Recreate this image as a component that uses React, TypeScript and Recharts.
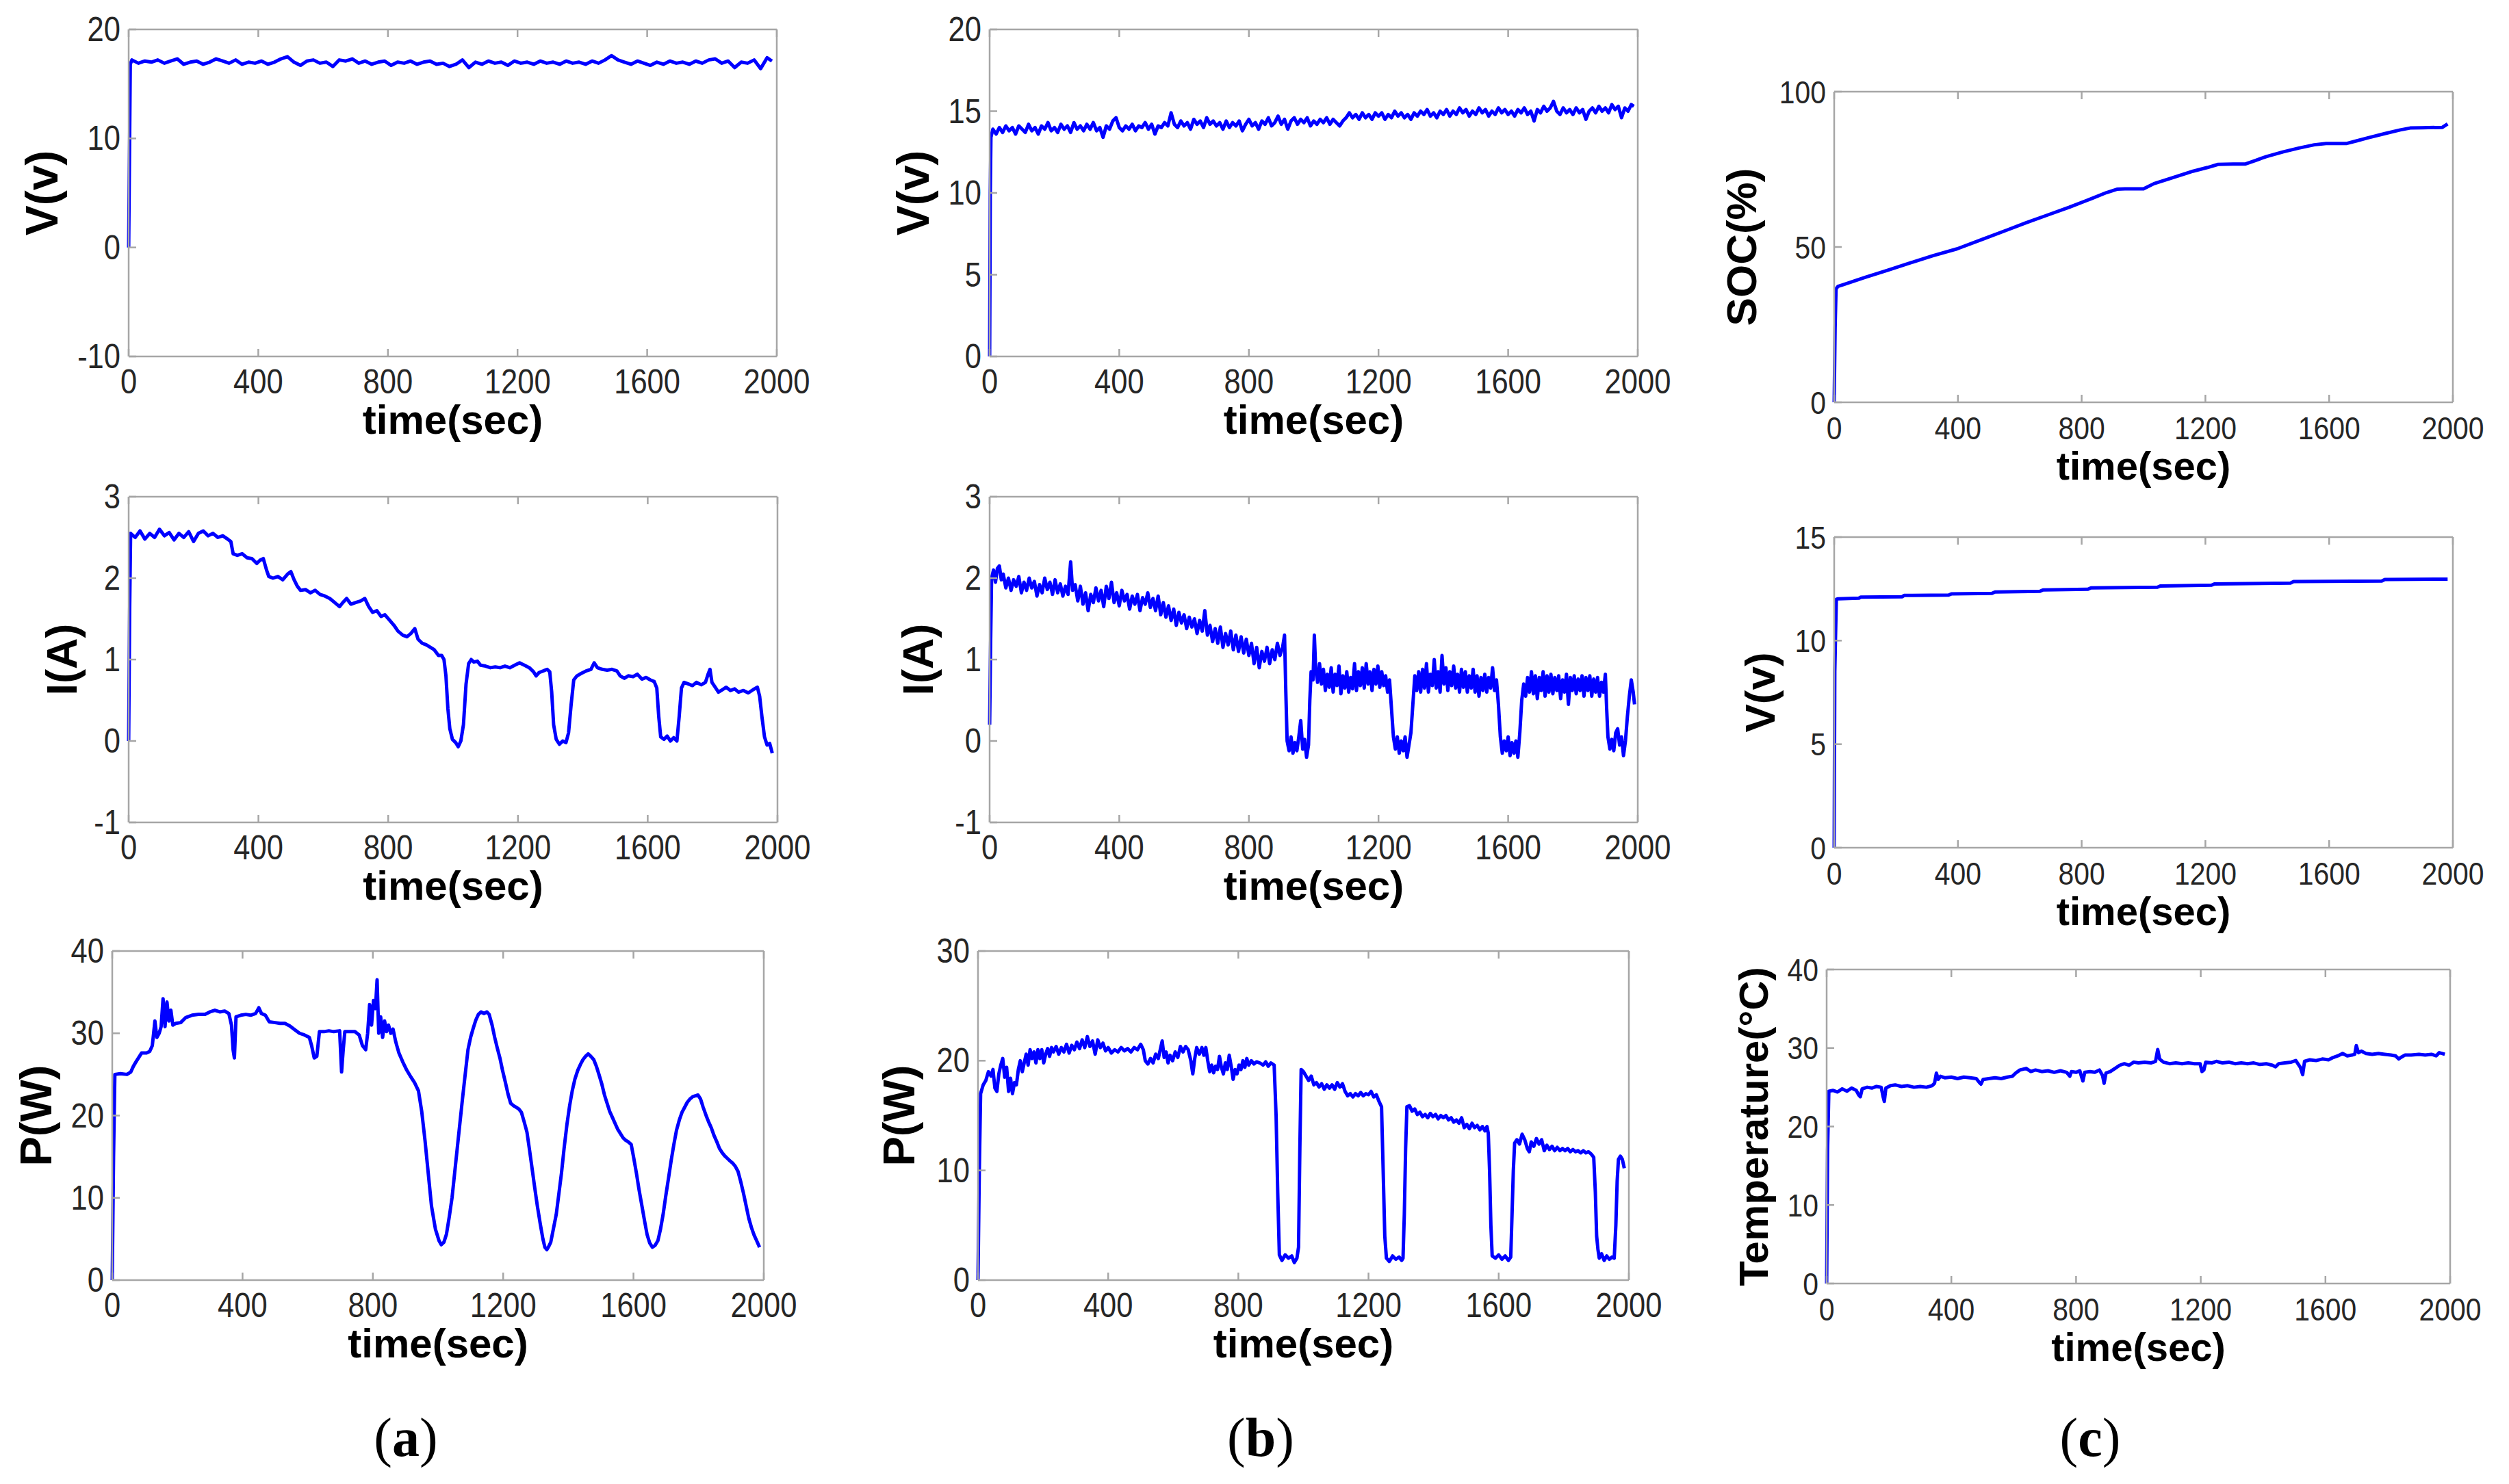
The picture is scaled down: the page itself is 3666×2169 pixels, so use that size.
import { Line, LineChart, XAxis, YAxis } from "recharts";

type Pt = [number, number];

const TIME_TICKS = [0, 400, 800, 1200, 1600, 2000];

// (a) column
const A_V_TICKS = [-10, 0, 10, 20];
const A_V: Pt[] = [
  [0, 0], [5, 16.8], [10, 17.2], [30, 16.9], [50, 17.1], [70, 17.0], [90, 17.2], [110, 16.9], [130, 17.1], [150, 17.3],
  [170, 16.8], [190, 17.0], [210, 17.1], [230, 16.8], [250, 17.0], [270, 17.3], [290, 17.1], [310, 16.9], [330, 17.2],
  [350, 16.8], [370, 17.0], [390, 16.9], [410, 17.1], [430, 16.8], [450, 17.0], [470, 17.3], [490, 17.5], [510, 17.0],
  [530, 16.7], [550, 17.1], [570, 17.2], [590, 16.9], [610, 17.0], [630, 16.6], [650, 17.2], [670, 17.1], [690, 17.3],
  [710, 16.9], [730, 17.1], [750, 16.8], [770, 17.0], [790, 17.1], [810, 16.7], [830, 17.0], [850, 16.9], [870, 17.1],
  [890, 16.8], [910, 17.0], [930, 17.1], [950, 16.8], [970, 16.9], [990, 16.6], [1010, 16.8], [1030, 17.2], [1050, 16.5],
  [1070, 17.0], [1090, 16.8], [1110, 17.1], [1130, 16.9], [1150, 17.0], [1170, 16.7], [1190, 17.1], [1210, 16.9],
  [1230, 17.0], [1250, 16.8], [1270, 17.1], [1290, 16.9], [1310, 17.0], [1330, 16.8], [1350, 17.1], [1370, 16.9],
  [1390, 17.0], [1410, 16.8], [1430, 17.1], [1450, 16.9], [1470, 17.2], [1490, 17.6], [1510, 17.2], [1530, 17.0],
  [1550, 16.8], [1570, 17.1], [1590, 16.9], [1610, 16.7], [1630, 17.0], [1650, 16.8], [1670, 17.1], [1690, 16.9],
  [1710, 17.0], [1730, 16.8], [1750, 17.1], [1770, 16.9], [1790, 17.2], [1810, 17.3], [1830, 16.9], [1850, 17.1],
  [1870, 16.5], [1890, 17.0], [1910, 16.9], [1930, 17.2], [1950, 16.4], [1970, 17.4], [1985, 17.1],
];

const I_TICKS = [-1, 0, 1, 2, 3];
const A_I: Pt[] = [
  [0, 0], [3, 1.6], [6, 2.55], [20, 2.5], [35, 2.58], [50, 2.48], [65, 2.55], [80, 2.5], [95, 2.6], [110, 2.52],
  [125, 2.56], [140, 2.47], [155, 2.55], [170, 2.5], [185, 2.57], [200, 2.45], [215, 2.55], [230, 2.58], [245, 2.52],
  [260, 2.55], [275, 2.5], [290, 2.52], [305, 2.48], [315, 2.45], [322, 2.3], [335, 2.28], [350, 2.3], [365, 2.25],
  [380, 2.24], [395, 2.18], [405, 2.22], [415, 2.24], [425, 2.1], [432, 2.02], [445, 2.0], [460, 2.02], [475, 1.98],
  [490, 2.05], [500, 2.08], [510, 1.98], [520, 1.9], [530, 1.85], [545, 1.86], [560, 1.82], [575, 1.85], [590, 1.8],
  [605, 1.78], [620, 1.75], [635, 1.7], [650, 1.65], [660, 1.7], [672, 1.75], [685, 1.68], [700, 1.7], [715, 1.72],
  [728, 1.75], [740, 1.65], [752, 1.58], [765, 1.6], [778, 1.53], [790, 1.55], [805, 1.48], [818, 1.42], [830, 1.35],
  [845, 1.3], [858, 1.28], [870, 1.32], [882, 1.38], [892, 1.25], [905, 1.2], [918, 1.18], [930, 1.15], [942, 1.12],
  [955, 1.05], [965, 1.05], [972, 1.0], [978, 0.8], [984, 0.4], [990, 0.15], [998, 0.02], [1008, -0.02], [1016, -0.07],
  [1024, 0.0], [1032, 0.2], [1040, 0.7], [1048, 0.95], [1056, 1.0], [1064, 0.97], [1075, 0.98], [1085, 0.93],
  [1100, 0.92], [1115, 0.9], [1130, 0.91], [1145, 0.9], [1160, 0.92], [1175, 0.9], [1190, 0.93], [1205, 0.96],
  [1220, 0.93], [1235, 0.9], [1248, 0.85], [1256, 0.8], [1265, 0.84], [1278, 0.86], [1290, 0.88], [1298, 0.85],
  [1304, 0.6], [1310, 0.2], [1318, 0.02], [1328, -0.04], [1338, 0.0], [1348, -0.02], [1356, 0.1], [1364, 0.45],
  [1372, 0.75], [1382, 0.8], [1395, 0.83], [1410, 0.86], [1425, 0.88], [1435, 0.96], [1445, 0.9], [1460, 0.88],
  [1475, 0.87], [1490, 0.88], [1505, 0.86], [1515, 0.8], [1528, 0.77], [1540, 0.8], [1555, 0.79], [1568, 0.82],
  [1582, 0.76], [1595, 0.78], [1608, 0.75], [1620, 0.73], [1628, 0.65], [1634, 0.3], [1640, 0.05], [1650, 0.02],
  [1660, 0.06], [1670, 0.0], [1680, 0.04], [1690, 0.0], [1697, 0.3], [1704, 0.65], [1712, 0.72], [1725, 0.7],
  [1738, 0.68], [1750, 0.72], [1765, 0.69], [1778, 0.72], [1786, 0.82], [1792, 0.88], [1798, 0.72], [1808, 0.66],
  [1818, 0.6], [1830, 0.63], [1842, 0.66], [1855, 0.62], [1868, 0.64], [1880, 0.6], [1895, 0.62], [1910, 0.59],
  [1925, 0.63], [1938, 0.66], [1945, 0.55], [1952, 0.3], [1960, 0.05], [1968, -0.05], [1976, -0.03], [1984, -0.15],
];

const A_P_TICKS = [0, 10, 20, 30, 40];
const A_P: Pt[] = [
  [0, 0], [4, 15], [8, 25], [25, 25.1], [45, 25], [57, 25.3], [65, 26], [74, 26.6], [90, 27.6], [105, 27.6],
  [115, 27.8], [123, 28.5], [131, 31.5], [137, 29.5], [144, 30], [150, 30.8], [156, 34.2], [162, 30.8], [168, 33.8],
  [174, 31.5], [180, 32.8], [186, 31], [195, 31.2], [210, 31.3], [225, 31.9], [245, 32.2], [265, 32.3], [285, 32.3],
  [300, 32.6], [315, 32.8], [330, 32.6], [345, 32.7], [358, 32.4], [366, 31], [371, 28], [375, 27], [380, 32],
  [395, 32.2], [410, 32.3], [425, 32.2], [440, 32.4], [450, 33.1], [458, 32.4], [470, 32.2], [482, 31.4], [500, 31.3],
  [515, 31.2], [530, 31.2], [545, 30.9], [558, 30.5], [575, 30], [590, 29.8], [605, 29.5], [612, 28.5], [620, 27],
  [628, 27.2], [636, 30.2], [650, 30.2], [665, 30.3], [680, 30.2], [698, 30.3], [704, 25.3], [709, 28], [714, 30.2],
  [730, 30.2], [745, 30.2], [758, 29.8], [768, 28.5], [778, 28], [784, 30], [790, 33.5], [796, 31], [802, 34],
  [808, 33], [813, 36.5], [818, 30], [824, 32], [830, 29.5], [836, 31.5], [842, 30.2], [848, 31], [855, 30],
  [862, 30.5], [870, 29], [880, 27.6], [892, 26.5], [903, 25.6], [915, 24.8], [928, 24], [940, 23], [950, 20.5],
  [960, 17], [970, 13], [980, 9], [992, 6.2], [1003, 4.8], [1010, 4.3], [1018, 4.6], [1026, 5.6], [1035, 7.8],
  [1043, 10], [1051, 13], [1059, 16], [1067, 19], [1075, 22], [1084, 25.2], [1092, 28], [1100, 29.5], [1108, 30.6],
  [1116, 31.6], [1124, 32.3], [1132, 32.6], [1141, 32.4], [1150, 32.6], [1157, 32.3], [1166, 31], [1174, 29.5],
  [1182, 28.2], [1190, 27], [1198, 25.5], [1207, 24], [1215, 22.6], [1223, 21.5], [1232, 21.2], [1240, 21],
  [1248, 20.8], [1256, 20.4], [1264, 19.3], [1273, 18], [1281, 15.8], [1289, 13.5], [1297, 11.2], [1305, 9],
  [1314, 6.8], [1322, 5], [1328, 4], [1334, 3.7], [1340, 4.1], [1346, 4.6], [1354, 6.2], [1363, 8], [1371, 10.5],
  [1379, 13], [1387, 16], [1396, 19], [1404, 21.2], [1412, 23], [1420, 24.4], [1429, 25.5], [1437, 26.2], [1445, 26.8],
  [1453, 27.2], [1461, 27.5], [1469, 27.2], [1478, 26.8], [1486, 26], [1494, 25], [1503, 23.8], [1511, 22.5],
  [1519, 21.5], [1527, 20.5], [1535, 19.8], [1544, 19], [1552, 18.3], [1560, 17.8], [1568, 17.3], [1576, 17],
  [1584, 16.8], [1593, 16.5], [1601, 14.8], [1609, 13], [1617, 11], [1626, 9], [1634, 7.2], [1642, 5.5], [1650, 4.5],
  [1658, 4], [1666, 4.2], [1675, 4.8], [1683, 6.2], [1691, 8], [1699, 10.2], [1708, 12.5], [1716, 14.6], [1724, 16.5],
  [1732, 18.2], [1741, 19.5], [1749, 20.4], [1757, 21], [1765, 21.6], [1773, 22], [1782, 22.3], [1790, 22.4],
  [1798, 22.5], [1806, 22], [1814, 21], [1823, 20], [1831, 19.2], [1839, 18.5], [1847, 17.6], [1856, 16.8], [1864, 16],
  [1872, 15.5], [1880, 15.1], [1888, 14.8], [1896, 14.5], [1905, 14.2], [1913, 13.8], [1921, 13.2], [1929, 12],
  [1938, 10.5], [1946, 9], [1954, 7.5], [1962, 6.4], [1970, 5.5], [1978, 4.8], [1987, 4],
];

// (b) column
const B_V_TICKS = [0, 5, 10, 15, 20];
const B_V: Pt[] = [
  [0, 0], [2, 10], [4, 13.4], [10, 13.9], [20, 13.6], [30, 14.0], [40, 13.7], [50, 14.1], [60, 13.8], [70, 14.0],
  [80, 13.6], [90, 14.1], [100, 13.9], [110, 13.7], [120, 14.2], [130, 13.8], [140, 14.0], [150, 13.6], [160, 14.1],
  [170, 13.9], [180, 14.3], [190, 13.8], [200, 14.0], [210, 13.7], [220, 14.2], [230, 13.9], [240, 14.1], [250, 13.7],
  [260, 14.3], [270, 13.9], [280, 14.1], [290, 13.8], [300, 14.2], [310, 13.9], [320, 14.3], [330, 13.8], [340, 14.0],
  [350, 13.4], [360, 14.1], [370, 13.9], [380, 14.4], [390, 14.6], [400, 14.0], [410, 13.8], [420, 14.1], [430, 13.9],
  [440, 14.2], [450, 13.8], [460, 14.1], [470, 14.0], [480, 14.3], [490, 13.9], [500, 14.2], [510, 13.6], [520, 14.1],
  [530, 14.0], [540, 14.3], [550, 14.1], [560, 14.9], [570, 14.2], [580, 14.0], [590, 14.4], [600, 14.1], [610, 14.3],
  [620, 13.9], [630, 14.5], [640, 14.2], [650, 14.4], [660, 14.0], [670, 14.6], [680, 14.2], [690, 14.4], [700, 14.1],
  [710, 14.3], [720, 13.9], [730, 14.4], [740, 14.0], [750, 14.3], [760, 14.1], [770, 14.4], [780, 13.8], [790, 14.2],
  [800, 14.5], [810, 14.1], [820, 14.3], [830, 13.9], [840, 14.4], [850, 14.2], [860, 14.6], [870, 14.1], [880, 14.3],
  [890, 14.7], [900, 14.2], [910, 14.5], [920, 13.9], [930, 14.4], [940, 14.6], [950, 14.2], [960, 14.5], [970, 14.3],
  [980, 14.6], [990, 14.1], [1000, 14.4], [1010, 14.2], [1020, 14.5], [1030, 14.3], [1040, 14.6], [1050, 14.2],
  [1060, 14.5], [1070, 14.3], [1080, 14.1], [1090, 14.4], [1100, 14.6], [1110, 14.9], [1120, 14.6], [1130, 14.8],
  [1140, 14.5], [1150, 14.9], [1160, 14.6], [1170, 14.8], [1180, 14.5], [1190, 14.9], [1200, 14.7], [1210, 14.9],
  [1220, 14.5], [1230, 14.8], [1240, 14.6], [1250, 15.0], [1260, 14.7], [1270, 14.9], [1280, 14.6], [1290, 14.8],
  [1300, 14.5], [1310, 14.9], [1320, 14.7], [1330, 15.0], [1340, 14.8], [1350, 15.1], [1360, 14.7], [1370, 14.9],
  [1380, 14.6], [1390, 15.0], [1400, 14.8], [1410, 15.1], [1420, 14.7], [1430, 15.0], [1440, 14.8], [1450, 15.2],
  [1460, 14.9], [1470, 15.1], [1480, 14.7], [1490, 15.0], [1500, 14.8], [1510, 15.2], [1520, 14.9], [1530, 15.1],
  [1540, 14.7], [1550, 15.0], [1560, 14.8], [1570, 15.2], [1580, 14.9], [1590, 15.1], [1600, 14.8], [1610, 15.0],
  [1620, 14.7], [1630, 15.1], [1640, 14.9], [1650, 15.2], [1660, 14.8], [1670, 15.0], [1680, 14.4], [1690, 15.1],
  [1700, 14.9], [1710, 15.3], [1720, 15.0], [1730, 15.2], [1740, 15.6], [1750, 15.0], [1760, 14.8], [1770, 15.2],
  [1780, 14.9], [1790, 15.1], [1800, 14.8], [1810, 15.2], [1820, 14.9], [1830, 15.1], [1840, 14.5], [1850, 15.0],
  [1860, 15.2], [1870, 14.9], [1880, 15.3], [1890, 15.0], [1900, 15.2], [1910, 14.9], [1920, 15.4], [1930, 15.1],
  [1940, 15.3], [1950, 14.6], [1960, 15.2], [1970, 15.0], [1980, 15.4], [1988, 15.3],
];

const B_I: Pt[] = [
  [0, 0.2], [3, 1.2], [6, 2.0], [12, 2.1], [18, 1.95], [24, 2.12], [30, 2.15], [36, 1.98], [42, 2.05], [50, 1.88],
  [58, 2.0], [66, 1.85], [74, 1.98], [82, 1.9], [90, 2.02], [98, 1.82], [106, 1.95], [114, 1.85], [122, 2.0],
  [130, 1.88], [138, 1.96], [146, 1.78], [154, 1.92], [162, 1.82], [170, 2.0], [178, 1.86], [186, 1.95], [194, 1.8],
  [202, 1.98], [210, 1.82], [218, 1.93], [226, 1.78], [234, 1.9], [242, 1.8], [250, 2.2], [256, 1.85], [264, 1.92],
  [272, 1.72], [280, 1.9], [288, 1.68], [296, 1.82], [304, 1.6], [312, 1.8], [320, 1.7], [328, 1.88], [336, 1.72],
  [344, 1.85], [352, 1.65], [360, 1.9], [368, 1.75], [376, 1.95], [384, 1.7], [392, 1.82], [400, 1.66], [408, 1.85],
  [416, 1.72], [424, 1.8], [432, 1.62], [440, 1.78], [448, 1.68], [456, 1.8], [464, 1.6], [472, 1.76], [480, 1.68],
  [488, 1.82], [496, 1.64], [504, 1.75], [512, 1.6], [520, 1.78], [528, 1.55], [536, 1.7], [544, 1.52], [552, 1.66],
  [560, 1.48], [568, 1.62], [576, 1.42], [584, 1.58], [592, 1.45], [600, 1.55], [608, 1.38], [616, 1.52], [624, 1.4],
  [632, 1.5], [640, 1.32], [648, 1.48], [656, 1.35], [664, 1.6], [672, 1.3], [680, 1.42], [688, 1.22], [696, 1.38],
  [704, 1.2], [712, 1.4], [720, 1.15], [728, 1.32], [736, 1.18], [744, 1.35], [752, 1.12], [760, 1.3], [768, 1.1],
  [776, 1.28], [784, 1.08], [792, 1.25], [800, 1.05], [808, 1.2], [816, 0.95], [824, 1.15], [832, 0.9], [840, 1.1],
  [848, 0.98], [856, 1.15], [864, 0.95], [872, 1.12], [880, 1.0], [888, 1.2], [896, 1.05], [904, 1.15], [910, 1.3],
  [914, 0.6], [918, 0.0], [924, -0.12], [930, 0.05], [936, -0.15], [942, -0.02], [948, -0.12], [954, 0.05],
  [960, 0.25], [966, -0.1], [972, 0.02], [978, -0.2], [984, -0.05], [988, 0.5], [992, 0.85], [998, 0.75], [1002, 1.3],
  [1006, 0.9], [1012, 0.72], [1018, 0.95], [1024, 0.7], [1030, 0.88], [1036, 0.62], [1042, 0.82], [1048, 0.66],
  [1054, 0.9], [1060, 0.6], [1066, 0.82], [1072, 0.68], [1078, 0.92], [1084, 0.58], [1090, 0.8], [1096, 0.65],
  [1102, 0.85], [1108, 0.6], [1114, 0.78], [1120, 0.64], [1126, 0.95], [1132, 0.62], [1138, 0.85], [1144, 0.68],
  [1150, 0.9], [1156, 0.65], [1162, 0.95], [1168, 0.7], [1174, 0.85], [1180, 0.62], [1186, 0.88], [1192, 0.7],
  [1198, 0.92], [1204, 0.66], [1210, 0.85], [1216, 0.68], [1222, 0.8], [1228, 0.6], [1234, 0.75], [1240, 0.4],
  [1246, 0.05], [1252, -0.1], [1258, 0.05], [1264, -0.15], [1270, 0.0], [1276, -0.12], [1282, 0.05], [1288, -0.2],
  [1294, -0.05], [1300, 0.1], [1306, 0.45], [1312, 0.8], [1318, 0.62], [1324, 0.85], [1330, 0.6], [1336, 0.88],
  [1342, 0.65], [1348, 0.95], [1354, 0.6], [1360, 0.82], [1366, 0.68], [1372, 1.0], [1378, 0.65], [1384, 0.85],
  [1390, 0.6], [1396, 1.05], [1402, 0.7], [1408, 0.9], [1414, 0.62], [1420, 0.85], [1426, 0.68], [1432, 0.92],
  [1438, 0.65], [1444, 0.82], [1450, 0.6], [1456, 0.88], [1462, 0.66], [1468, 0.85], [1474, 0.6], [1480, 0.8],
  [1486, 0.65], [1492, 0.88], [1498, 0.6], [1504, 0.8], [1510, 0.55], [1516, 0.78], [1522, 0.62], [1528, 0.82],
  [1534, 0.6], [1540, 0.78], [1546, 0.65], [1552, 0.9], [1558, 0.62], [1564, 0.75], [1570, 0.45], [1576, 0.05],
  [1582, -0.15], [1588, 0.0], [1594, -0.12], [1600, 0.05], [1606, -0.18], [1612, -0.02], [1618, -0.15], [1624, 0.0],
  [1630, -0.2], [1636, 0.1], [1642, 0.5], [1648, 0.7], [1654, 0.55], [1660, 0.78], [1666, 0.6], [1672, 0.85],
  [1678, 0.58], [1684, 0.8], [1690, 0.52], [1696, 0.78], [1702, 0.62], [1708, 0.85], [1714, 0.55], [1720, 0.8],
  [1726, 0.6], [1732, 0.82], [1738, 0.58], [1744, 0.78], [1750, 0.62], [1756, 0.8], [1762, 0.52], [1768, 0.75],
  [1774, 0.6], [1780, 0.82], [1786, 0.45], [1792, 0.78], [1798, 0.62], [1804, 0.8], [1810, 0.58], [1816, 0.76],
  [1822, 0.62], [1828, 0.8], [1834, 0.55], [1840, 0.78], [1846, 0.62], [1852, 0.8], [1858, 0.55], [1864, 0.76],
  [1870, 0.6], [1876, 0.78], [1882, 0.55], [1888, 0.72], [1894, 0.6], [1900, 0.82], [1904, 0.4], [1908, 0.05],
  [1914, -0.1], [1920, 0.02], [1926, -0.12], [1932, 0.1], [1938, 0.15], [1944, -0.05], [1950, 0.05], [1956, -0.18],
  [1962, 0.0], [1968, 0.3], [1974, 0.55], [1980, 0.75], [1986, 0.6], [1990, 0.45],
];

const B_P_TICKS = [0, 10, 20, 30];
const B_P: Pt[] = [
  [0, 0], [4, 10], [8, 17], [16, 17.8], [24, 18.2], [32, 19], [40, 18.6], [46, 19.2], [52, 17.5], [58, 17.2],
  [64, 18.8], [70, 19.6], [76, 20.2], [82, 18.5], [88, 19.4], [94, 17.2], [100, 18.4], [106, 17.0], [112, 18.0],
  [118, 17.8], [124, 19.2], [130, 20.0], [136, 19.0], [142, 19.8], [148, 20.6], [154, 19.6], [160, 21.0], [166, 20.2],
  [172, 20.8], [178, 19.8], [184, 21.0], [190, 20.2], [196, 21.0], [202, 19.8], [208, 20.6], [214, 21.1], [220, 20.4],
  [226, 21.2], [232, 20.8], [240, 21.3], [248, 20.6], [256, 21.2], [264, 20.8], [272, 21.5], [280, 20.7], [288, 21.4],
  [296, 21.0], [304, 21.7], [312, 21.1], [320, 21.9], [328, 21.2], [336, 22.2], [344, 21.3], [352, 21.8], [360, 20.6],
  [368, 21.9], [376, 21.2], [384, 21.6], [392, 20.9], [400, 21.2], [410, 20.7], [420, 21.0], [430, 20.8], [440, 21.2],
  [450, 20.9], [460, 21.1], [470, 20.8], [480, 21.2], [490, 21.0], [500, 21.5], [508, 21.0], [514, 20.0], [522, 19.7],
  [530, 20.2], [538, 19.8], [546, 20.6], [554, 20.2], [560, 21.0], [566, 21.8], [572, 20.3], [578, 20.8], [584, 19.8],
  [590, 20.5], [598, 20.0], [606, 20.8], [614, 20.3], [622, 21.3], [630, 20.8], [638, 21.3], [646, 21.0], [654, 20.0],
  [660, 18.8], [666, 20.2], [672, 21.2], [680, 20.6], [688, 21.2], [694, 20.5], [700, 21.2], [706, 20.0], [712, 19.0],
  [718, 19.6], [724, 18.9], [730, 19.5], [736, 19.2], [742, 20.4], [748, 19.4], [754, 18.8], [760, 19.8], [766, 19.2],
  [772, 20.5], [778, 19.5], [784, 18.3], [790, 19.2], [796, 18.8], [802, 19.6], [808, 19.2], [814, 20.0], [820, 19.4],
  [826, 20.2], [832, 19.6], [840, 20.0], [848, 19.7], [856, 19.9], [866, 19.8], [876, 19.6], [884, 19.9], [892, 19.5],
  [900, 19.8], [910, 19.6], [916, 15], [921, 8], [926, 2.3], [934, 1.8], [944, 2.3], [954, 2.0], [964, 2.2], [972, 1.6],
  [980, 2.0], [985, 3], [989, 12], [993, 19.2], [1000, 19.0], [1008, 18.6], [1016, 18.2], [1024, 18.6], [1032, 17.8],
  [1040, 18.0], [1048, 17.6], [1056, 17.9], [1064, 17.4], [1072, 17.8], [1080, 17.5], [1088, 17.8], [1096, 17.4],
  [1104, 18.0], [1112, 17.6], [1120, 17.9], [1128, 17.2], [1136, 16.8], [1144, 17.0], [1152, 16.7], [1160, 17.0],
  [1168, 16.8], [1176, 17.1], [1184, 16.8], [1192, 17.0], [1200, 16.9], [1208, 17.2], [1216, 16.7], [1224, 16.9],
  [1232, 16.3], [1240, 15.8], [1245, 10], [1250, 4], [1255, 2.0], [1264, 1.7], [1274, 2.2], [1284, 1.9], [1294, 2.1],
  [1302, 1.8], [1306, 2.0], [1310, 6], [1314, 12], [1318, 15.8], [1326, 15.9], [1334, 15.4], [1342, 15.6], [1350, 15.1],
  [1358, 15.3], [1366, 14.9], [1374, 15.1], [1382, 14.8], [1390, 15.2], [1398, 14.9], [1406, 15.1], [1414, 14.7],
  [1422, 15.0], [1430, 14.8], [1438, 15.0], [1446, 14.6], [1454, 14.8], [1462, 14.4], [1470, 14.6], [1478, 14.3],
  [1486, 14.8], [1494, 13.9], [1502, 14.2], [1510, 13.8], [1518, 14.3], [1526, 13.9], [1534, 14.1], [1542, 13.7],
  [1550, 14.0], [1558, 13.6], [1564, 14.0], [1568, 13.4], [1572, 10], [1576, 5], [1580, 2.2], [1590, 2.0], [1600, 2.3],
  [1610, 1.9], [1620, 2.2], [1630, 1.8], [1637, 2.1], [1641, 6], [1645, 10], [1649, 12.5], [1656, 12.8], [1664, 12.4],
  [1672, 13.3], [1680, 12.8], [1688, 12.0], [1694, 11.7], [1700, 12.6], [1708, 12.2], [1716, 12.9], [1724, 12.4],
  [1732, 12.8], [1740, 11.8], [1748, 12.3], [1756, 11.9], [1764, 12.2], [1772, 11.8], [1780, 12.1], [1788, 11.8],
  [1796, 12.0], [1804, 11.8], [1812, 12.0], [1820, 11.7], [1828, 11.9], [1836, 11.7], [1844, 11.8], [1852, 11.6],
  [1860, 11.8], [1868, 11.6], [1876, 11.7], [1884, 11.5], [1892, 11.2], [1897, 8], [1901, 4], [1905, 2.8], [1909, 2.0],
  [1916, 2.4], [1924, 1.8], [1932, 2.2], [1940, 1.9], [1948, 2.1], [1955, 2.0], [1960, 5], [1964, 9], [1968, 11.0],
  [1974, 11.3], [1980, 11.0], [1986, 10.2],
];

// (c) column
const SOC_TICKS = [0, 50, 100];
const C_SOC: Pt[] = [
  [0, 0], [3, 24], [6, 36.5], [12, 37.3], [34, 38], [100, 40.2], [172, 42.5], [250, 45], [320, 47.2], [397, 49.4],
  [480, 52.5], [560, 55.5], [620, 57.8], [690, 60.3], [760, 62.8], [830, 65.5], [880, 67.5], [914, 68.6], [940, 68.7],
  [1000, 68.7], [1034, 70.4], [1100, 72.5], [1160, 74.4], [1207, 75.6], [1241, 76.6], [1290, 76.7], [1328, 76.7],
  [1360, 77.8], [1397, 79.1], [1450, 80.6], [1500, 81.8], [1552, 82.9], [1590, 83.3], [1655, 83.3], [1690, 84.2],
  [1724, 85.1], [1780, 86.5], [1830, 87.7], [1862, 88.3], [1900, 88.4], [1966, 88.5], [1983, 89.6],
];

const C_V_TICKS = [0, 5, 10, 15];
const C_V: Pt[] = [
  [0, 0], [2, 8.5], [4, 10], [7, 12], [12, 12.02], [80, 12.05], [86, 12.1], [220, 12.12], [226, 12.18], [370, 12.2],
  [380, 12.26], [510, 12.28], [520, 12.35], [665, 12.38], [675, 12.45], [820, 12.48], [830, 12.55], [1045, 12.58],
  [1055, 12.64], [1220, 12.68], [1230, 12.74], [1475, 12.78], [1485, 12.85], [1770, 12.88], [1780, 12.95], [1983, 12.97],
];

const TEMP_TICKS = [0, 10, 20, 30, 40];
const C_TEMP: Pt[] = [
  [0, 0], [3, 17], [7, 24.5], [20, 24.6], [35, 24.4], [50, 24.8], [65, 24.5], [80, 24.9], [95, 24.6], [103, 24.0],
  [108, 23.8], [114, 24.8], [130, 25.0], [145, 24.9], [160, 25.1], [175, 25.0], [181, 23.8], [185, 23.2], [190, 24.9],
  [205, 25.2], [220, 25.3], [240, 25.1], [260, 25.2], [280, 25.0], [300, 25.1], [320, 25.0], [338, 25.2], [346, 25.5],
  [352, 26.8], [358, 26.0], [365, 26.4], [380, 26.2], [400, 26.3], [420, 26.1], [440, 26.3], [460, 26.2], [480, 26.1],
  [490, 25.6], [495, 25.4], [502, 26.0], [520, 26.1], [540, 26.2], [560, 26.1], [580, 26.3], [596, 26.4], [606, 26.8],
  [620, 27.2], [640, 27.4], [655, 27.0], [670, 27.2], [690, 27.0], [710, 27.1], [730, 26.9], [750, 27.1], [770, 26.9],
  [780, 26.4], [785, 27.0], [800, 26.9], [812, 27.1], [818, 26.3], [822, 25.8], [828, 26.9], [845, 27.0], [860, 26.9],
  [875, 27.2], [885, 26.5], [890, 25.5], [896, 26.8], [910, 27.0], [925, 27.4], [940, 27.8], [955, 28.0], [970, 27.8],
  [985, 28.2], [1000, 28.1], [1020, 28.2], [1040, 28.1], [1055, 28.3], [1062, 29.8], [1068, 28.6], [1080, 28.2],
  [1100, 28.0], [1120, 28.1], [1140, 28.0], [1160, 28.1], [1180, 28.0], [1198, 28.0], [1204, 27.0], [1210, 27.2],
  [1216, 28.2], [1235, 28.1], [1250, 28.3], [1270, 28.1], [1290, 28.2], [1310, 28.0], [1330, 28.1], [1350, 28.0],
  [1370, 28.1], [1390, 27.9], [1410, 28.0], [1430, 27.8], [1440, 27.6], [1450, 28.0], [1470, 28.1], [1490, 28.2],
  [1505, 28.4], [1520, 27.5], [1527, 26.6], [1533, 28.3], [1550, 28.5], [1570, 28.4], [1590, 28.6], [1610, 28.5],
  [1625, 28.8], [1640, 29.0], [1655, 29.3], [1670, 29.0], [1685, 29.1], [1694, 29.2], [1699, 30.3], [1706, 29.4],
  [1715, 29.6], [1730, 29.3], [1750, 29.2], [1770, 29.3], [1790, 29.2], [1810, 29.1], [1825, 29.0], [1835, 28.6],
  [1842, 28.8], [1855, 29.1], [1875, 29.1], [1900, 29.2], [1920, 29.1], [1940, 29.2], [1955, 29.0], [1965, 29.4],
  [1983, 29.2],
];

const SANS = "'Liberation Sans', Arial, Helvetica, sans-serif";
const FRAME = "#a6a6a6";
const TXT = "#262626";
const BLUE = "#0000ff";
const TICK_LEN = 11;

const PAD_L = 200;
const PAD_T = 30;
const PAD_R = 60;
const PAD_B = 150;

type PanelCfg = {
  box: [number, number, number, number]; // plot area: left, top, right, bottom
  data: Pt[];
  domain: [number, number];
  ticks: number[];
  yLabel: string;
  yGap: number;
  yFont: number;
  tickFont: number;
  xFont: number;
};

const PANELS: PanelCfg[] = [
  { box: [188, 43, 1135, 521], data: A_V, domain: [-10, 20], ticks: A_V_TICKS, yLabel: "V(v)", yGap: 127, yFont: 66, tickFont: 50, xFont: 60 },
  { box: [188, 726, 1136, 1202], data: A_I, domain: [-1, 3], ticks: I_TICKS, yLabel: "I(A)", yGap: 98, yFont: 63, tickFont: 50, xFont: 60 },
  { box: [164, 1390, 1116, 1871], data: A_P, domain: [0, 40], ticks: A_P_TICKS, yLabel: "P(W)", yGap: 112, yFont: 65, tickFont: 50, xFont: 60 },
  { box: [1446, 43, 2393, 521], data: B_V, domain: [0, 20], ticks: B_V_TICKS, yLabel: "V(v)", yGap: 112, yFont: 66, tickFont: 50, xFont: 60 },
  { box: [1446, 726, 2393, 1202], data: B_I, domain: [-1, 3], ticks: I_TICKS, yLabel: "I(A)", yGap: 105, yFont: 63, tickFont: 50, xFont: 60 },
  { box: [1429, 1390, 2380, 1871], data: B_P, domain: [0, 30], ticks: B_P_TICKS, yLabel: "P(W)", yGap: 116, yFont: 65, tickFont: 50, xFont: 60 },
  { box: [2680, 134, 3584, 588], data: C_SOC, domain: [0, 100], ticks: SOC_TICKS, yLabel: "SOC(%)", yGap: 136, yFont: 62, tickFont: 47, xFont: 58 },
  { box: [2680, 785, 3584, 1239], data: C_V, domain: [0, 15], ticks: C_V_TICKS, yLabel: "V(v)", yGap: 109, yFont: 62, tickFont: 47, xFont: 58 },
  { box: [2669, 1417, 3580, 1876], data: C_TEMP, domain: [0, 40], ticks: TEMP_TICKS, yLabel: "Temperature(°C)", yGap: 107, yFont: 60, tickFont: 47, xFont: 58 },
];

const CAPTIONS = [
  { x: 593, y: 2101, letter: "a" },
  { x: 1842, y: 2101, letter: "b" },
  { x: 3054, y: 2101, letter: "c" },
];

function Panel({ p }: { p: PanelCfg }) {
  const [L, T, R, B] = p.box;
  const w = R - L + PAD_L + PAD_R;
  const h = B - T + PAD_T + PAD_B;
  const rows = p.data.map(([t, v]) => ({ t, v }));
  const frame = { stroke: FRAME, strokeWidth: 2.5 };

  const bottomTick = (q: any) => (
    <g>
      <line x1={q.x} x2={q.x} y1={q.y} y2={q.y - TICK_LEN} stroke={FRAME} strokeWidth={2.5} />
      <text
        transform={`translate(${q.x},${q.y + 37}) scale(0.87,1)`}
        textAnchor="middle"
        dominantBaseline="central"
        fontSize={p.tickFont}
        fontFamily={SANS}
        fill={TXT}
      >
        {q.payload.value}
      </text>
    </g>
  );
  const topTick = (q: any) => (
    <line x1={q.x} x2={q.x} y1={q.y} y2={q.y + TICK_LEN} stroke={FRAME} strokeWidth={2.5} />
  );
  const leftTick = (q: any) => (
    <g>
      <line x1={q.x} x2={q.x + TICK_LEN} y1={q.y} y2={q.y} stroke={FRAME} strokeWidth={2.5} />
      <text
        transform={`translate(${q.x - 12},${q.y}) scale(0.87,1)`}
        textAnchor="end"
        dominantBaseline="central"
        fontSize={p.tickFont}
        fontFamily={SANS}
        fill={TXT}
      >
        {q.payload.value}
      </text>
    </g>
  );
  const rightTick = (q: any) => (
    <line x1={q.x} x2={q.x - TICK_LEN} y1={q.y} y2={q.y} stroke={FRAME} strokeWidth={2.5} />
  );

  return (
    <div style={{ position: "absolute", left: L - PAD_L, top: T - PAD_T }}>
      <LineChart width={w} height={h} data={rows} margin={{ top: PAD_T - 1, right: PAD_R - 1, left: 0, bottom: 0 }}>
        <XAxis
          xAxisId="b"
          dataKey="t"
          type="number"
          domain={[0, 2000]}
          ticks={TIME_TICKS}
          interval={0}
          height={PAD_B}
          tickSize={0}
          tickMargin={0}
          tickLine={false}
          axisLine={frame}
          tick={bottomTick}
          label={{
            content: (q: any) => {
              const vb = q.viewBox;
              return (
                <text
                  x={vb.x + vb.width / 2}
                  y={vb.y + 92}
                  textAnchor="middle"
                  dominantBaseline="central"
                  fontSize={p.xFont}
                  fontWeight="bold"
                  fontFamily={SANS}
                  fill="#000"
                >
                  time(sec)
                </text>
              );
            },
          }}
        />
        <XAxis
          xAxisId="t"
          orientation="top"
          dataKey="t"
          type="number"
          domain={[0, 2000]}
          ticks={TIME_TICKS}
          interval={0}
          height={1}
          tickSize={0}
          tickMargin={0}
          tickLine={false}
          axisLine={frame}
          tick={topTick}
        />
        <YAxis
          yAxisId="l"
          type="number"
          domain={p.domain}
          ticks={p.ticks}
          interval={0}
          width={PAD_L}
          tickSize={0}
          tickMargin={0}
          tickLine={false}
          axisLine={frame}
          tick={leftTick}
          label={{
            content: (q: any) => {
              const vb = q.viewBox;
              const cx = vb.x + vb.width - p.yGap;
              const cy = vb.y + vb.height / 2;
              return (
                <text
                  transform={`translate(${cx},${cy}) rotate(-90)`}
                  textAnchor="middle"
                  dominantBaseline="central"
                  fontSize={p.yFont}
                  fontWeight="bold"
                  fontFamily={SANS}
                  fill="#000"
                >
                  {p.yLabel}
                </text>
              );
            },
          }}
        />
        <YAxis
          yAxisId="r"
          orientation="right"
          type="number"
          domain={p.domain}
          ticks={p.ticks}
          interval={0}
          width={1}
          tickSize={0}
          tickMargin={0}
          tickLine={false}
          axisLine={frame}
          tick={rightTick}
        />
        <Line
          xAxisId="b"
          yAxisId="l"
          type="linear"
          dataKey="v"
          stroke={BLUE}
          strokeWidth={5}
          strokeLinejoin="round"
          dot={false}
          activeDot={false}
          isAnimationActive={false}
        />
      </LineChart>
    </div>
  );
}

export default function App() {
  return (
    <div style={{ position: "relative", width: 3666, height: 2169, background: "#fff", overflow: "hidden" }}>
      <style>{"body{margin:0;background:#fff}"}</style>
      {PANELS.map((p, i) => (
        <Panel key={i} p={p} />
      ))}
      {CAPTIONS.map((c) => (
        <div
          key={c.letter}
          style={{
            position: "absolute",
            left: c.x - 100,
            top: c.y - 45,
            width: 200,
            height: 90,
            lineHeight: "90px",
            textAlign: "center",
            fontFamily: "'Liberation Serif', 'Times New Roman', serif",
            fontSize: 80,
            color: "#000",
          }}
        >
          (<b>{c.letter}</b>)
        </div>
      ))}
    </div>
  );
}
